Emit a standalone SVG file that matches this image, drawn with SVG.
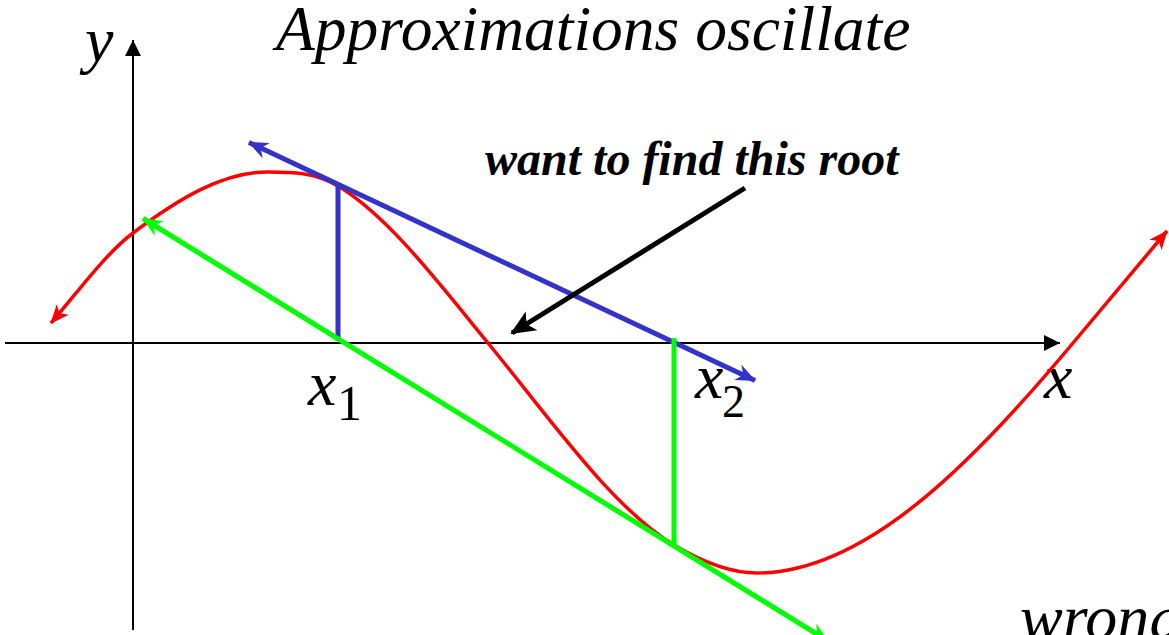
<svg xmlns="http://www.w3.org/2000/svg" width="1169" height="635" viewBox="0 0 1169 635">
  <style>
    .t { font-family: "Liberation Serif", "Times New Roman", serif; font-style: italic; fill: #000; }
    .sub { font-family: "Liberation Serif", "Times New Roman", serif; font-style: normal; fill: #000; }
    .axis { stroke: #000; stroke-width: 2; fill: none; }
    .red { stroke: #FF0000; stroke-width: 3.5; fill: none; }
    .blue { stroke: #3333CC; stroke-width: 5; fill: none; }
    .green { stroke: #00FF00; stroke-width: 5; fill: none; }
  </style>
  <defs>
    <marker id="axhead" markerUnits="userSpaceOnUse" markerWidth="20" markerHeight="20" refX="16" refY="8" orient="auto" overflow="visible">
      <path d="M16,8 L0,0 L0,16 Z" fill="#000"/>
    </marker>
    <marker id="redhead" markerUnits="userSpaceOnUse" markerWidth="24" markerHeight="24" refX="19" refY="9" orient="auto-start-reverse" overflow="visible">
      <path d="M20,9 L1,1 L6,9 L1,17 Z" fill="#FF0000"/>
    </marker>
    <marker id="bluehead" markerUnits="userSpaceOnUse" markerWidth="24" markerHeight="24" refX="19" refY="9" orient="auto-start-reverse" overflow="visible">
      <path d="M20,9 L0,0.5 L6,9 L0,17.5 Z" fill="#3333CC"/>
    </marker>
    <marker id="greenhead" markerUnits="userSpaceOnUse" markerWidth="24" markerHeight="24" refX="19" refY="9" orient="auto-start-reverse" overflow="visible">
      <path d="M20,9 L0,0.5 L6,9 L0,17.5 Z" fill="#00FF00"/>
    </marker>
    <marker id="blackhead" markerUnits="userSpaceOnUse" markerWidth="30" markerHeight="30" refX="23" refY="11" orient="auto" overflow="visible">
      <path d="M25,11 L0,0 L6,11 L0,22 Z" fill="#000"/>
    </marker>
  </defs>

  <g id="title">
    <text class="t" x="276" y="50" font-size="63.5">Approximations oscillate</text>
  </g>

  <g id="axes">
    <line class="axis" x1="133" y1="630" x2="133" y2="40" marker-end="url(#axhead)"/>
    <line class="axis" x1="5" y1="343" x2="1060" y2="343" marker-end="url(#axhead)"/>
    <text class="t" x="85" y="61" font-size="64">y</text>
    <text class="t" x="1044" y="398" font-size="64">x</text>
  </g>

  <g id="function-curve">
    <path class="red" marker-start="url(#redhead)" marker-end="url(#redhead)"
      d="M51,323 C78.3,291.6 105.7,253.5 133,233 C177.7,199.5 222.3,172 267,172 C290.7,172 314.3,171.8 338,186 C388,216 438,282 488,343 C550,418.6 612,507.8 674,545 C701.7,561.6 729.3,573 757,573 C862.3,573 967.7,469.4 1073,343 L1167,231"/>
  </g>

  <g id="connectors">
    <g id="blue-tangent">
      <line class="blue" x1="249" y1="142.5" x2="755" y2="380.5" marker-start="url(#bluehead)" marker-end="url(#bluehead)"/>
      <line class="blue" x1="338" y1="185" x2="338" y2="341"/>
    </g>
    <g id="green-tangent">
      <line class="green" x1="143" y1="218.5" x2="828" y2="641" marker-start="url(#greenhead)" marker-end="url(#greenhead)"/>
      <line class="green" x1="674" y1="338" x2="674" y2="546"/>
    </g>
    <g id="root-pointer">
      <line x1="745" y1="188" x2="512" y2="333" stroke="#000" stroke-width="5" marker-end="url(#blackhead)"/>
    </g>
  </g>

  <g id="label-x1">
    <text class="t" x="308" y="405" font-size="64">x</text>
    <text class="sub" x="337" y="420" font-size="50">1</text>
  </g>
  <g id="label-x2">
    <text class="t" x="695" y="398" font-size="64">x</text>
    <text class="sub" x="722" y="417" font-size="46">2</text>
  </g>

  <g id="root-label">
    <text class="t" x="485" y="175" font-size="48" font-weight="bold">want to find this root</text>
  </g>

  <g id="wrong-label">
    <text class="t" x="1020" y="639" font-size="64">wrong</text>
  </g>
</svg>
